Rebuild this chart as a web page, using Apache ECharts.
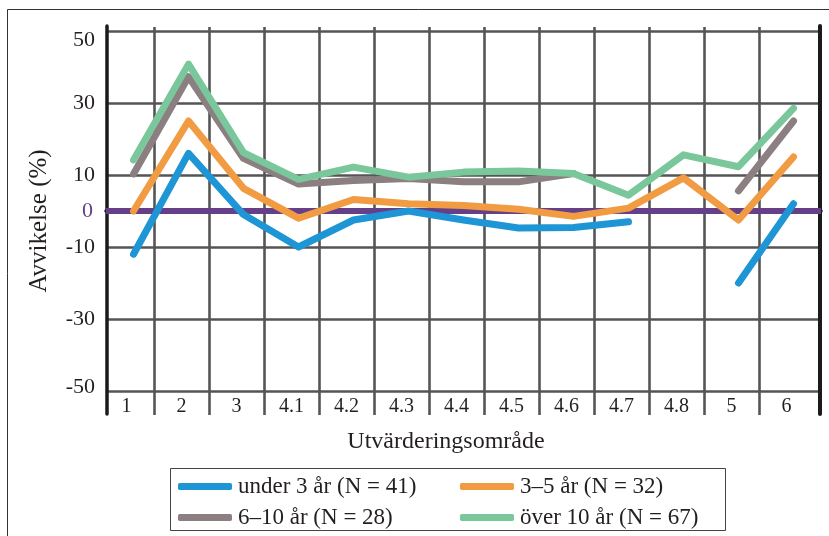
<!DOCTYPE html>
<html>
<head>
<meta charset="utf-8">
<script src="https://cdn.jsdelivr.net/npm/echarts@6/dist/echarts.min.js"></script>
<style>
  html, body { margin: 0; padding: 0; background: #ffffff; }
  #chart { width: 829px; height: 536px; }
</style>
</head>
<body>
<div id="chart"></div>
<script>
// Utvärderingsområden (x-axis categories)
const categories = ['1', '2', '3', '4.1', '4.2', '4.3', '4.4', '4.5', '4.6', '4.7', '4.8', '5', '6'];

// Avvikelse (%) per group; null = no value for that area
const under3 = [-12, 16, -1, -10, -2.5, 0, -2.5, -4.7, -4.6, -3, null, -20, 2];
const from3to5 = [0, 25, 6.3, -2, 3.2, 2, 1.5, 0.5, -1.5, 0.8, 9.2, -2.5, 15];
const from6to10 = [10.3, 37.3, 14.6, 7.5, 8.5, 9, 8.1, 8.1, 10.4, null, null, 5.6, 25];
const over10 = [14.2, 40.8, 16.2, 8.8, 12.2, 9.4, 10.8, 11.1, 10.4, 4.4, 15.6, 12.3, 28.5];

// Group names shown in the legend
const seriesNames = ['under 3 år (N = 41)', '3–5 år (N = 32)', '6–10 år (N = 28)', 'över 10 år (N = 67)'];

// Labelled y ticks
const yTickLabels = [50, 30, 10, 0, -10, -30, -50];

const colors = ['#1e95d4', '#f19b42', '#8b7f81', '#79c79a'];
const zeroColor = '#653f88';
const gridColor = '#555555';
const textColor = '#231f20';
const serif = '"Liberation Serif", "DejaVu Serif", serif';

// vertical grid lines: skip the two outer band edges
const vLineColors = ['rgba(0,0,0,0)'];
for (let i = 0; i < categories.length - 1; i++) vLineColors.push(gridColor);
vLineColors.push('rgba(0,0,0,0)');

const chart = echarts.init(document.getElementById('chart'), null, { renderer: 'canvas' });

function lineSeries(idx, values) {
  return {
    name: seriesNames[idx],
    type: 'line',
    xAxisIndex: 0,
    yAxisIndex: 0,
    data: values,
    showSymbol: false,
    symbol: 'none',
    connectNulls: false,
    z: 5 + idx,
    color: colors[idx],
    lineStyle: { width: 7, color: colors[idx], cap: 'round', join: 'round' },
    emphasis: { disabled: true },
    animation: false
  };
}

function legendColumn(left, names) {
  return {
    orient: 'vertical',
    left: left,
    top: 475,
    width: 260,
    height: 60,
    padding: 0,
    itemWidth: 54,
    itemHeight: 7,
    itemGap: 8,
    icon: 'roundRect',
    selectedMode: false,
    data: names,
    textStyle: { fontFamily: serif, fontSize: 23, color: textColor, lineHeight: 22, padding: [0, 0, 0, 1] }
  };
}

const option = {
  animation: false,
  backgroundColor: '#ffffff',
  grid: [
    // data area
    { left: 106, top: 31, width: 715, height: 360 },
    // vertical grid lines and category labels
    { left: 99, top: 27, width: 715, height: 388 },
    // left/right frame lines of the plot
    { left: 107, top: 26, width: 713, height: 388 }
  ],
  xAxis: [
    {
      gridIndex: 0, type: 'category', data: categories, boundaryGap: true,
      axisLine: { show: true, lineStyle: { color: '#1a1a1a', width: 3.5 } },
      axisTick: { show: false }, axisLabel: { show: false }, splitLine: { show: false }
    },
    {
      gridIndex: 1, type: 'category', data: categories, boundaryGap: true,
      axisLine: { show: false }, axisTick: { show: false },
      axisLabel: { show: true, margin: -18, fontFamily: serif, fontSize: 20, color: textColor },
      splitLine: { show: true, lineStyle: { color: vLineColors, width: 2.6 } },
      name: 'Utvärderingsområde', nameLocation: 'middle', nameGap: 15,
      nameTextStyle: { fontFamily: serif, fontSize: 24, color: textColor, padding: [0, 21, 0, 0] }
    },
    {
      gridIndex: 2, type: 'category', data: categories, show: false
    }
  ],
  yAxis: [
    {
      gridIndex: 0, type: 'value', min: -50, max: 50, interval: 10,
      axisLine: { show: false }, axisTick: { show: false },
      axisLabel: {
        margin: 11, fontFamily: serif, fontSize: 22, color: textColor,
        formatter: function (v) {
          if (yTickLabels.indexOf(v) < 0) return '';
          if (v === 0) return '{z|0}';
          if (v === 50) return '{top|50}';
          if (v === -50) return '{bot|-50}';
          return String(v);
        },
        rich: {
          z: { color: zeroColor, fontFamily: serif, fontSize: 22, padding: [0, 2, 0, 0] },
          top: { fontFamily: serif, fontSize: 22, color: textColor, padding: [18, 0, 0, 0] },
          bot: { fontFamily: serif, fontSize: 22, color: textColor, padding: [0, 0, 8, 0] }
        }
      },
      splitLine: { show: true, lineStyle: { color: [gridColor, 'rgba(0,0,0,0)'], width: 2.6 } },
      name: 'Avvikelse (%)', nameLocation: 'middle', nameGap: 54,
      nameTextStyle: { fontFamily: serif, fontSize: 25, color: textColor, padding: [0, 20, 0, 0] }
    },
    { gridIndex: 1, type: 'value', min: 0, max: 1, show: false },
    {
      gridIndex: 2, type: 'value', min: 0, max: 1, position: 'left',
      axisLine: { show: true, onZero: false, lineStyle: { color: '#1a1a1a', width: 3.5 } },
      axisTick: { show: false }, axisLabel: { show: false }, splitLine: { show: false }
    },
    {
      gridIndex: 2, type: 'value', min: 0, max: 1, position: 'right',
      axisLine: { show: true, onZero: false, lineStyle: { color: '#1a1a1a', width: 4 } },
      axisTick: { show: false }, axisLabel: { show: false }, splitLine: { show: false }
    }
  ],
  legend: [
    legendColumn(178, [seriesNames[0], seriesNames[2]]),
    legendColumn(460, [seriesNames[1], seriesNames[3]])
  ],
  graphic: [
    // outer frame of the figure
    { type: 'rect', shape: { x: 7.5, y: 9.5, width: 840, height: 540 }, style: { fill: 'none', stroke: '#333333', lineWidth: 1 }, silent: true, z: -1 },
    // legend box
    { type: 'rect', shape: { x: 170.5, y: 468.5, width: 555, height: 62 }, style: { fill: '#ffffff', stroke: '#444444', lineWidth: 1 }, silent: true, z: -1 }
  ],
  series: [
    {
      // zero reference line
      type: 'line', xAxisIndex: 0, yAxisIndex: 0, data: [], z: 2, silent: true,
      markLine: {
        silent: true, symbol: ['none', 'none'], label: { show: false },
        lineStyle: { color: zeroColor, width: 6, type: 'solid' },
        emphasis: { disabled: true },
        data: [{ yAxis: 0 }]
      }
    },
    lineSeries(0, under3),
    lineSeries(1, from3to5),
    lineSeries(2, from6to10),
    lineSeries(3, over10)
  ]
};

chart.setOption(option);
</script>
</body>
</html>
